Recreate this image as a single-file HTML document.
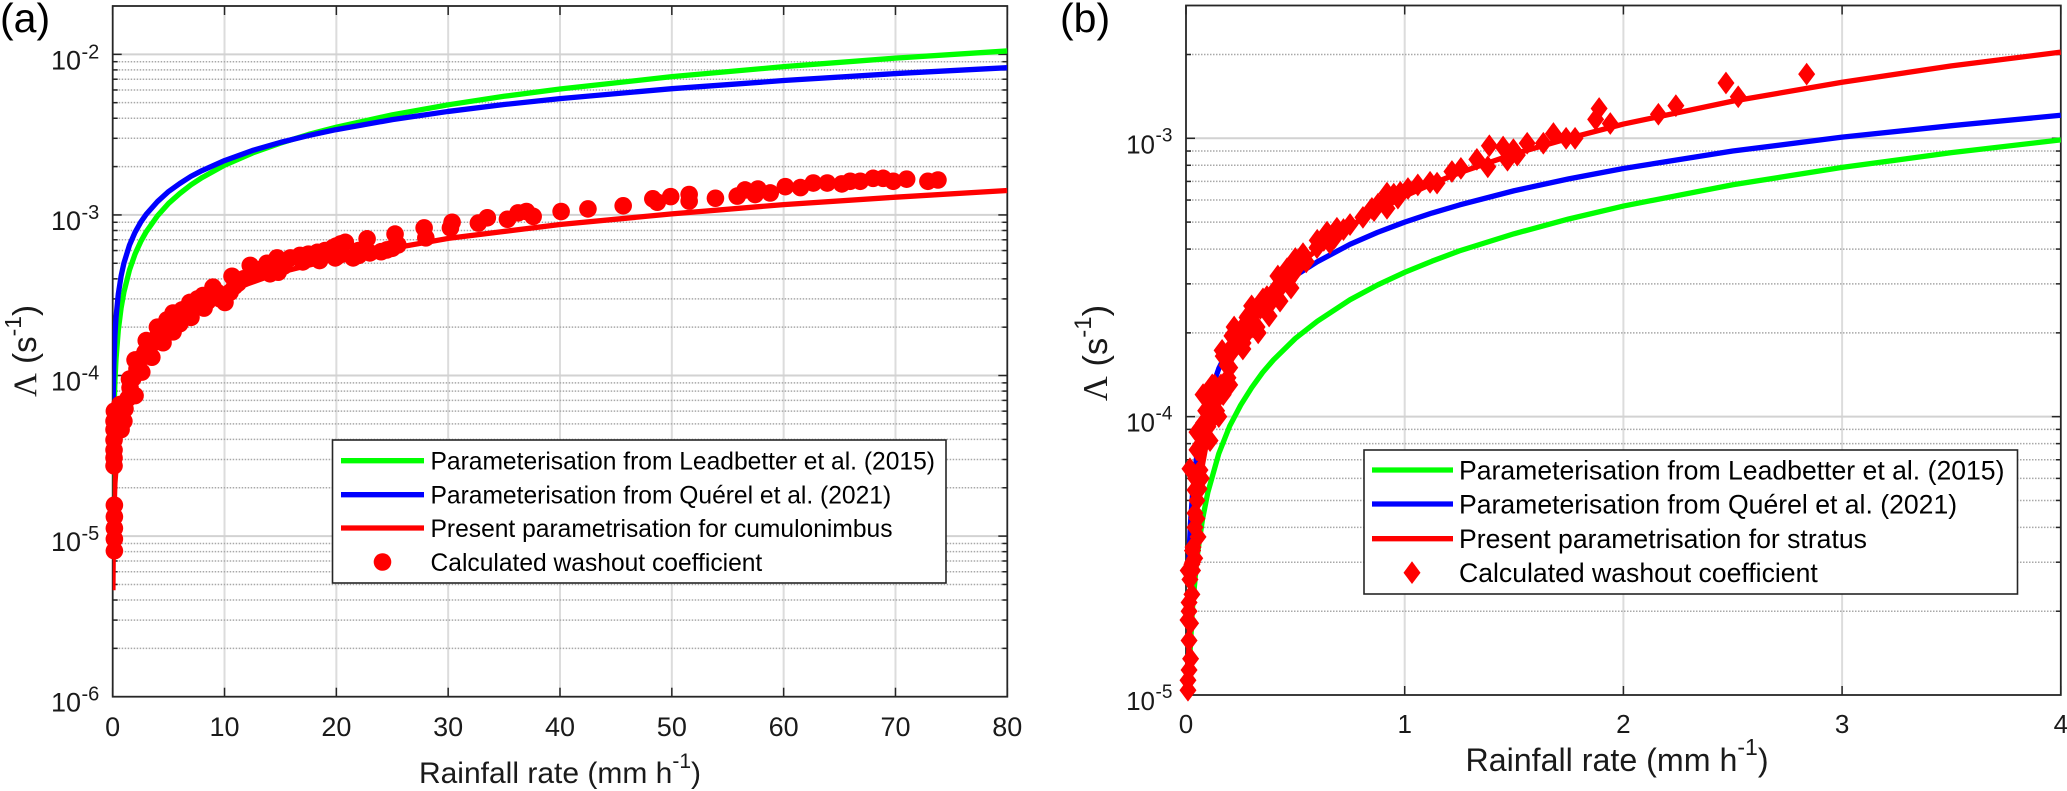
<!DOCTYPE html>
<html lang="en">
<head>
<meta charset="utf-8">
<title>Washout coefficient vs rainfall rate</title>
<style>
html,body{margin:0;padding:0;background:#fff;}
svg{display:block;}
text{font-family:"Liberation Sans",Arial,sans-serif;fill:#1a1a1a;}
.lg{font-size:24.6px;fill:#000;}
.lgb{font-size:26.6px;fill:#000;}
</style>
</head>
<body>
<svg id="fig" width="2067" height="791" viewBox="0 0 2067 791" xmlns="http://www.w3.org/2000/svg">
<defs>
<clipPath id="clipA"><rect x="112.7" y="6" width="894.6" height="691"/></clipPath>
<clipPath id="clipB"><rect x="1186" y="5.5" width="875" height="689.5"/></clipPath>
</defs>
<g id="panelA"></g>
<g id="panelB"></g>

<text x="0" y="32" font-size="41" style="fill:#000">(a)</text>
<text x="1060" y="32" font-size="41" style="fill:#000">(b)</text>

<text x="560" y="783" font-size="30" text-anchor="middle">Rainfall rate (mm h<tspan dy="-15" font-size="21">-1</tspan><tspan dy="15">)</tspan></text>
<text x="1617" y="771" font-size="32.2" text-anchor="middle">Rainfall rate (mm h<tspan dy="-16" font-size="23">-1</tspan><tspan dy="16">)</tspan></text>
<text transform="translate(36,351) rotate(-90)" font-size="33" text-anchor="middle"><tspan style="font-family:'Liberation Serif',serif">Λ</tspan> (s<tspan dy="-15" font-size="23">-1</tspan><tspan dy="15">)</tspan></text>
<text transform="translate(1107,353) rotate(-90)" font-size="34.5" text-anchor="middle"><tspan style="font-family:'Liberation Serif',serif">Λ</tspan> (s<tspan dy="-16" font-size="24">-1</tspan><tspan dy="16">)</tspan></text>

<g id="legendA">
<rect x="332.5" y="440" width="613.5" height="143" fill="#fff" stroke="#262626" stroke-width="1.6"/>
<g><line x1="341" x2="424" y1="460.7" y2="460.7" stroke="#00ff00" stroke-width="5.3"/><text class="lg" x="430.5" y="469.5">Parameterisation from Leadbetter et al. (2015)</text></g>
<g><line x1="341" x2="424" y1="494.7" y2="494.7" stroke="#0000ff" stroke-width="5.3"/><text class="lg" x="430.5" y="503.5">Parameterisation from Quérel et al. (2021)</text></g>
<g><line x1="341" x2="424" y1="528" y2="528" stroke="#ff0000" stroke-width="5.3"/><text class="lg" x="430.5" y="537">Present parametrisation for cumulonimbus</text></g>
<g><circle cx="382.5" cy="562" r="8.8" fill="#ff0000"/><text class="lg" x="430.5" y="571">Calculated washout coefficient</text></g>
</g>

<g id="legendB">
<rect x="1364" y="450" width="653.5" height="144" fill="#fff" stroke="#262626" stroke-width="1.6"/>
<g><line x1="1372" x2="1453" y1="470" y2="470" stroke="#00ff00" stroke-width="5.3"/><text class="lgb" x="1459" y="479.5">Parameterisation from Leadbetter et al. (2015)</text></g>
<g><line x1="1372" x2="1453" y1="504" y2="504" stroke="#0000ff" stroke-width="5.3"/><text class="lgb" x="1459" y="513.5">Parameterisation from Quérel et al. (2021)</text></g>
<g><line x1="1372" x2="1453" y1="538.7" y2="538.7" stroke="#ff0000" stroke-width="5.3"/><text class="lgb" x="1459" y="548">Present parametrisation for stratus</text></g>
<g><polygon points="1412,561.3 1420.5,572.7 1412,584 1403.5,572.7" fill="#ff0000"/><text class="lgb" x="1459" y="582">Calculated washout coefficient</text></g>
</g>
</svg>

<script>
/* ---------- panel (a) data ---------- */
const xTicksA = [0,10,20,30,40,50,60,70,80];
const yExponentsA = [-6,-5,-4,-3,-2];
const leadRainA = [0.01,0.02,0.05,0.1,0.2,0.3,0.5,0.75,1,1.5,2,2.5,3,4,5,6,7,8,10,12.5,15,17.5,20,25,30,35,40,50,60,70,80];
const leadLambdaA = [8.68e-6,1.5e-5,3.1e-5,5.35e-5,9.26e-5,1.27e-4,1.91e-4,2.63e-4,3.3e-4,4.54e-4,5.71e-4,6.81e-4,7.86e-4,9.87e-4,1.18e-3,1.36e-3,1.54e-3,1.71e-3,2.04e-3,2.43e-3,2.8e-3,3.17e-3,3.52e-3,4.2e-3,4.85e-3,5.48e-3,6.08e-3,7.26e-3,8.38e-3,9.47e-3,1.05e-2];
const querelRainA = [0.02,0.05,0.1,0.2,0.3,0.5,0.75,1,1.5,2,2.5,3,4,5,6,7,8,10,12.5,15,17.5,20,25,30,35,40,50,60,70,80];
const querelLambdaA = [4.09e-5,7.35e-5,1.15e-4,1.79e-4,2.31e-4,3.21e-4,4.16e-4,5e-4,6.48e-4,7.79e-4,9e-4,1.01e-3,1.21e-3,1.4e-3,1.57e-3,1.74e-3,1.89e-3,2.18e-3,2.52e-3,2.83e-3,3.12e-3,3.4e-3,3.92e-3,4.41e-3,4.87e-3,5.3e-3,6.11e-3,6.87e-3,7.59e-3,8.26e-3];
const presentRainA = [0.02,0.03,0.05,0.1,0.2,0.5,1,2,3,5,7,10,15,20,30,40,50,60,70,80];
const presentLambdaA = [4.6e-6,5.67e-6,8.1e-6,1.32e-5,2.14e-5,4.06e-5,6.6e-5,1.07e-4,1.42e-4,2.04e-4,2.58e-4,3.31e-4,4.4e-4,5.37e-4,7.14e-4,8.72e-4,1.015e-3,1.16e-3,1.29e-3,1.42e-3];
const obsRainA = [0.15,0.15,0.15,0.15,0.15,0.12,0.12,0.12,0.12,0.12,0.12,0.15,0.47,0.65,0.75,1,1.1,1.37,1.55,1.8,2.17,2.53,2.9,3.16,3.4,3.78,4,4.4,4.86,5,5.4,5.4,5.8,6.2,6.5,6.9,7.4,7.6,8.08,8.17,8.5,8.97,9.33,9.6,10.04,10.5,10.67,10.9,11.2,11.7,12.3,12.6,12.9,13.3,13.8,14.07,14.8,14.7,15.3,15.9,16.75,17,17.5,18.3,18.5,19,19.7,19.9,20,20.05,20.4,20.5,20.8,21.5,22,22,23,22.75,24,24.5,25,25.25,25.5,27.85,28,30.35,30.2,32.7,33.5,35.3,36.25,37,37.6,40.1,42.5,45.65,48.3,48.7,49.9,51.55,51.55,53.9,55.85,56.55,57.45,57.7,58.8,60.15,61.5,62.65,63.9,65.2,65.95,66.85,68,68.9,69.8,71,72.9,73.8,1.5,2,2.6,3.5,4.5,4,3,6,7,2];
const obsLambdaA = [8.1e-6,9.6e-6,1.12e-5,1.32e-5,1.56e-5,2.74e-5,3.07e-5,3.44e-5,3.97e-5,4.6e-5,5.2e-5,6e-5,6e-5,6.6e-5,4.6e-5,5.2e-5,6.2e-5,7.2e-5,8.4e-5,9.6e-5,1.1e-4,1.28e-4,1.4e-4,1.47e-4,1.55e-4,1.67e-4,1.75e-4,1.95e-4,2.22e-4,2.05e-4,1.87e-4,2.45e-4,2.3e-4,2.56e-4,2.5e-4,2.85e-4,2.75e-4,3e-4,3.15e-4,2.63e-4,2.9e-4,3.55e-4,3.3e-4,3e-4,2.85e-4,3.3e-4,4.15e-4,3.6e-4,3.75e-4,4e-4,4.85e-4,4.3e-4,4.55e-4,4.6e-4,5e-4,4.3e-4,4.4e-4,5.4e-4,4.8e-4,5.4e-4,5.6e-4,5.1e-4,5.7e-4,5.85e-4,5.2e-4,6e-4,6.25e-4,5.4e-4,6.4e-4,5.5e-4,6.6e-4,5.7e-4,6.75e-4,5.4e-4,5.6e-4,6e-4,5.8e-4,7.1e-4,5.9e-4,6.05e-4,6.2e-4,7.6e-4,6.5e-4,8.3e-4,7.2e-4,9e-4,8.3e-4,8.9e-4,9.6e-4,9.4e-4,1.03e-3,1.05e-3,9.8e-4,1.05e-3,1.09e-3,1.14e-3,1.26e-3,1.2e-3,1.3e-3,1.34e-3,1.22e-3,1.27e-3,1.31e-3,1.43e-3,1.34e-3,1.45e-3,1.37e-3,1.5e-3,1.48e-3,1.58e-3,1.58e-3,1.56e-3,1.62e-3,1.62e-3,1.69e-3,1.69e-3,1.62e-3,1.67e-3,1.62e-3,1.65e-3,9.5e-5,1.25e-4,1.05e-4,1.3e-4,1.6e-4,2e-4,1.65e-4,2.1e-4,2.3e-4,7.5e-5];

/* ---------- panel (b) data ---------- */
const xTicksB = [0,1,2,3,4];
const yExponentsB = [-5,-4,-3];
const curveRainB = [0.012,0.02,0.03,0.05,0.075,0.1,0.15,0.2,0.25,0.3,0.35,0.4,0.5,0.6,0.75,0.875,1,1.125,1.25,1.5,1.75,2,2.5,3,3.5,4];
const leadLambdaB = [1.02e-5,1.5e-5,2.07e-5,3.1e-5,4.26e-5,5.35e-5,7.37e-5,9.26e-5,1.1e-4,1.27e-4,1.44e-4,1.6e-4,1.91e-4,2.2e-4,2.63e-4,2.97e-4,3.3e-4,3.62e-4,3.94e-4,4.54e-4,5.13e-4,5.71e-4,6.81e-4,7.86e-4,8.88e-4,9.87e-4];
const querelLambdaB = [2.95e-5,4.09e-5,5.3e-5,7.35e-5,9.5e-5,1.15e-4,1.49e-4,1.79e-4,2.06e-4,2.31e-4,2.55e-4,2.78e-4,3.21e-4,3.6e-4,4.16e-4,4.59e-4,5e-4,5.39e-4,5.76e-4,6.48e-4,7.15e-4,7.79e-4,9e-4,1.01e-3,1.11e-3,1.21e-3];
const presentLambdaB = [1.38e-5,2.15e-5,3.04e-5,4.71e-5,6.7e-5,8.56e-5,1.21e-4,1.55e-4,1.88e-4,2.2e-4,2.51e-4,2.82e-4,3.42e-4,3.99e-4,4.84e-4,5.53e-4,6.2e-4,6.86e-4,7.52e-4,8.78e-4,1e-3,1.125e-3,1.36e-3,1.59e-3,1.82e-3,2.04e-3];
const obsRainB = [2.838,2.469,2.525,2.24,2.16,1.94,1.889,1.873,1.779,1.738,1.68,1.634,1.56,1.497,1.515,1.47,1.45,1.387,1.38,1.33,1.257,1.216,1.148,1.116,1.06,1.015,0.98,0.969,0.95,0.919,0.919,0.9,0.878,0.86,0.85,0.809,0.75,0.72,0.69,0.68,0.658,0.645,0.63,0.6,0.599,0.55,0.535,0.51,0.47,0.462,0.489,0.444,0.42,0.4,0.37,0.352,0.384,0.34,0.31,0.283,0.306,0.29,0.279,0.325,0.27,0.25,0.233,0.261,0.22,0.21,0.19,0.165,0.187,0.192,0.2,0.16,0.17,0.13,0.14,0.14,0.078,0.123,0.12,0.11,0.1,0.08,0.05,0.087,0.06,0.05,0.07,0.018,0.064,0.06,0.041,0.05,0.055,0.05,0.041,0.041,0.04,0.032,0.027,0.018,0.027,0.03,0.044,0.03,0.03,0.01,0.03,0.014,0.014,0.009,0.021,0.014,0.021,0.014,0.009,0.009,0.3,0.33,0.38,0.22,0.26,0.17,0.2,0.12,0.15,0.09,0.07,0.11,0.43,0.48,0.42,0.5];
const obsLambdaB = [1.7e-3,1.58e-3,1.41e-3,1.31e-3,1.22e-3,1.13e-3,1.28e-3,1.17e-3,1e-3,1e-3,1.04e-3,9.6e-4,9.6e-4,9.1e-4,8.7e-4,8.34e-4,9.3e-4,9.4e-4,7.9e-4,8.4e-4,7.8e-4,7.6e-4,6.9e-4,6.95e-4,6.8e-4,6.6e-4,6.4e-4,6.1e-4,6.3e-4,6.35e-4,5.6e-4,5.9e-4,5.8e-4,5.5e-4,5.6e-4,5.2e-4,4.9e-4,4.7e-4,4.75e-4,4.4e-4,4.2e-4,4.6e-4,4.3e-4,4.3e-4,4.05e-4,3.6e-4,3.85e-4,3.45e-4,3.1e-4,3.4e-4,3.25e-4,3e-4,2.9e-4,2.8e-4,2.7e-4,2.65e-4,2.55e-4,2.45e-4,2.35e-4,2.3e-4,2.1e-4,2.05e-4,2.27e-4,2.1e-4,2.15e-4,2e-4,1.95e-4,1.84e-4,1.75e-4,1.95e-4,1.7e-4,1.73e-4,1.53e-4,1.38e-4,1.5e-4,1.3e-4,1.2e-4,1.3e-4,1.05e-4,1.15e-4,1.2e-4,1.15e-4,9.8e-5,1.03e-4,9.2e-5,9.5e-5,8.8e-5,8.3e-5,7.5e-5,7.6e-5,6e-5,6.5e-5,6.43e-5,5.5e-5,5.45e-5,5e-5,3.7e-5,4.3e-5,4.5e-5,4e-5,3.1e-5,3.4e-5,2.95e-5,2.6e-5,2.3e-5,3.3e-5,6e-5,3.3e-5,3e-5,2.8e-5,2.8e-5,2.15e-5,2e-5,1.86e-5,1.81e-5,1.57e-5,1.35e-5,1.23e-5,1.13e-5,1.04e-5,2.5e-4,2e-4,2.3e-4,2.1e-4,1.75e-4,1.65e-4,1.3e-4,1.3e-4,1e-4,1.05e-4,8e-5,8.2e-5,2.6e-4,2.9e-4,3.2e-4,3.7e-4];

const SVGNS = 'http://www.w3.org/2000/svg';
function make(parent, tag, attrs, txt){
  const el = document.createElementNS(SVGNS, tag);
  for (const k in attrs) el.setAttribute(k, attrs[k]);
  if (txt !== undefined) el.textContent = txt;
  parent.appendChild(el);
  return el;
}

function drawPanel(cfg){
  const g = document.getElementById(cfg.gid);
  const L = cfg.left, R = cfg.right, T = cfg.top, B = cfg.bottom;
  const X = v => L + (v - cfg.xMin) / (cfg.xMax - cfg.xMin) * (R - L);
  const Y = v => B - (Math.log10(v) - cfg.logMin) / (cfg.logMax - cfg.logMin) * (B - T);
  const axisColor = '#262626';

  /* grid */
  cfg.xTicks.forEach(function(t){
    if (t === cfg.xMin || t === cfg.xMax) return;
    const gl = make(g, 'line', {x1:X(t), x2:X(t), y1:T, y2:B, stroke:'#dcdcdc', 'stroke-width':2});
    
    
  });
  for (let e = Math.floor(cfg.logMin); e <= Math.ceil(cfg.logMax); e++){
    for (let m = 1; m <= 9; m++){
      const v = m * Math.pow(10, e);
      if (Math.log10(v) < cfg.logMin + 1e-6 || Math.log10(v) > cfg.logMax - 1e-6) continue;
      const y = Y(v);
      const gl = make(g, 'line', m === 1
        ? {x1:L, x2:R, y1:y, y2:y, stroke:'#d2d2d2', 'stroke-width':2}
        : {x1:L, x2:R, y1:y, y2:y, stroke:'#a8a8a8', 'stroke-width':1.5, 'stroke-dasharray':'1.5 1.5'});
      
      
      const len = m === 1 ? 9 : 5;
      const t1 = make(g, 'line', {x1:L, x2:L + len, y1:y, y2:y, stroke:axisColor, 'stroke-width':1.5});
      
      
      const t2 = make(g, 'line', {x1:R - len, x2:R, y1:y, y2:y, stroke:axisColor, 'stroke-width':1.5});
      
      
    }
  }

  /* x ticks and labels */
  cfg.xTicks.forEach(function(t){
    const a = make(g, 'line', {x1:X(t), x2:X(t), y1:T, y2:T + 9, stroke:axisColor, 'stroke-width':1.5});
    
    
    const b = make(g, 'line', {x1:X(t), x2:X(t), y1:B - 9, y2:B, stroke:axisColor, 'stroke-width':1.5});
    
    
    const lab = make(g, 'text', {x:X(t), y:cfg.xLabelY, 'font-size':cfg.tickFont, 'text-anchor':'middle'}, String(t));
    
    
  });

  /* y tick labels */
  cfg.yExps.forEach(function(ex){
    const y = Y(Math.pow(10, ex));
    const base = make(g, 'text', {x:cfg.yLabelX, y:y + 15, 'font-size':cfg.tickFont, 'text-anchor':'end'}, '10');
    
    
    const sup = make(g, 'text', {x:cfg.yLabelX + 0.5, y:y + cfg.supOffset, 'font-size':cfg.supFont}, String(ex));
    
    
  });

  /* axes box */
  const box = make(g, 'rect', {x:L, y:T, width:R - L, height:B - T, fill:'none', stroke:axisColor, 'stroke-width':1.8});
  
  

  /* curves */
  cfg.series.forEach(function(s){
    const pts = s.rain.map(function(r, i){ return X(r).toFixed(2) + ',' + Y(s.values[i]).toFixed(2); }).join(' ');
    const line = make(g, 'polyline', {points:pts, fill:'none', stroke:s.color, 'stroke-width':5.3, 'stroke-linejoin':'round', 'clip-path':'url(#' + cfg.clip + ')'});
    
    
  });

  /* observations */
  cfg.obsRain.forEach(function(r, i){
    const cx = X(r), cy = Y(cfg.obsLambda[i]);
    let mark;
    if (cfg.marker === 'circle'){
      mark = make(g, 'circle', {cx:cx, cy:cy, r:8.8, fill:'#ff0000'});
    } else {
      const w = 8.5, h = 11.4;
      mark = make(g, 'polygon', {points:[cx + ',' + (cy - h), (cx + w) + ',' + cy, cx + ',' + (cy + h), (cx - w) + ',' + cy].join(' '), fill:'#ff0000'});
    }
    
    
  });
}

drawPanel({
  gid:'panelA', clip:'clipA', left:112.7, right:1007.3, top:6, bottom:696.7,
  xMin:0, xMax:80, logMin:-6, logMax:Math.log10(0.02),
  xTicks:xTicksA, yExps:yExponentsA, xLabelY:736, yLabelX:81, tickFont:27, supFont:20, supOffset:4, marker:'circle',
  obsRain:obsRainA, obsLambda:obsLambdaA,
  series:[
    {name:'leadbetter-curve-a', color:'#00ff00', rain:leadRainA, values:leadLambdaA},
    {name:'querel-curve-a', color:'#0000ff', rain:querelRainA, values:querelLambdaA},
    {name:'present-curve-a', color:'#ff0000', rain:presentRainA, values:presentLambdaA}
  ]
});
drawPanel({
  gid:'panelB', clip:'clipB', left:1186, right:2060.8, top:5.5, bottom:695,
  xMin:0, xMax:4, logMin:-5, logMax:Math.log10(0.003),
  xTicks:xTicksB, yExps:yExponentsB, xLabelY:733, yLabelX:1155, tickFont:26, supFont:19, supOffset:3, marker:'diamond',
  obsRain:obsRainB, obsLambda:obsLambdaB,
  series:[
    {name:'leadbetter-curve-b', color:'#00ff00', rain:curveRainB, values:leadLambdaB},
    {name:'querel-curve-b', color:'#0000ff', rain:curveRainB, values:querelLambdaB},
    {name:'present-curve-b', color:'#ff0000', rain:curveRainB, values:presentLambdaB}
  ]
});

/* keep legends above the panels */
const fig = document.getElementById('fig');
fig.appendChild(document.getElementById('legendA'));
fig.appendChild(document.getElementById('legendB'));
</script>
</body>
</html>
